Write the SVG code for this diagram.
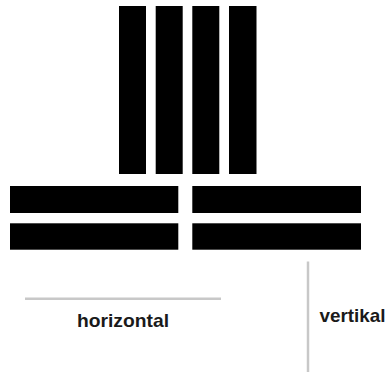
<svg xmlns="http://www.w3.org/2000/svg" width="391" height="372" viewBox="0 0 391 372">
<style>
.bar{fill:#000}
.rule{stroke:#c8c8c8;stroke-width:2.5;fill:none}
.lbl{font-family:"Liberation Sans",Arial,sans-serif;font-weight:bold;font-size:19px;fill:#1a1a1a}
</style>
<rect width="391" height="372" fill="#fff"/>
<g id="vertical-bars">
<rect class="bar" x="119" y="6" width="27" height="168"/>
<rect class="bar" x="155.7" y="6" width="27" height="168"/>
<rect class="bar" x="192.3" y="6" width="27" height="168"/>
<rect class="bar" x="229" y="6" width="27.5" height="168"/>
</g>
<g id="horizontal-bars">
<rect class="bar" x="10" y="186" width="168.3" height="27"/>
<rect class="bar" x="192.3" y="186" width="168.7" height="27"/>
<rect class="bar" x="10" y="223.3" width="168.3" height="26.4"/>
<rect class="bar" x="192.3" y="223.3" width="168.7" height="26.4"/>
</g>
<g id="connectors">
<line class="rule" x1="25" y1="298.7" x2="221" y2="298.7"/>
<line class="rule" x1="308" y1="261.5" x2="308" y2="372"/>
</g>
<g id="label-horizontal"><text class="lbl" x="77" y="326.5" textLength="92" lengthAdjust="spacingAndGlyphs">horizontal</text></g>
<g id="label-vertikal"><text class="lbl" x="319.5" y="321.5" textLength="66" lengthAdjust="spacingAndGlyphs">vertikal</text></g>
</svg>
